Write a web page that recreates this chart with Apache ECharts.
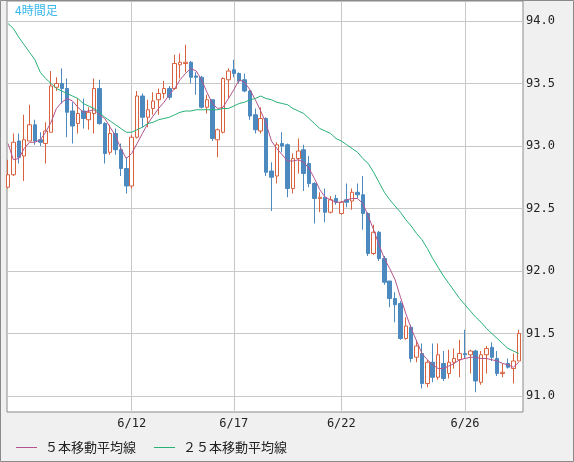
<!DOCTYPE html>
<html>
<head>
<meta charset="utf-8">
<script src="https://cdn.jsdelivr.net/npm/echarts@6/dist/echarts.min.js"></script>
<style>
html,body{margin:0;padding:0;background:#f0f0f0;}
#c{width:574px;height:462px;}
</style>
</head>
<body>
<div id="c"></div>
<script>
// ---- data ----
const opens = [92.67,92.77,93.04,92.92,93.04,93.17,93.05,93.02,93.11,93.47,
93.50,93.46,93.28,93.18,93.28,93.21,93.26,93.46,93.18,92.95,
93.10,92.97,92.82,92.68,93.07,93.40,93.23,93.30,93.37,93.42,
93.46,93.46,93.65,93.66,93.67,93.56,93.55,93.31,93.37,93.05,
93.11,93.53,93.61,93.58,93.53,93.44,93.25,93.12,93.22,92.80,
92.76,93.02,93.01,92.66,92.90,92.97,92.86,92.70,92.58,92.59,
92.47,92.58,92.46,92.57,92.56,92.63,92.61,92.46,92.14,92.31,
92.10,91.92,91.78,91.74,91.46,91.55,91.31,91.34,91.10,91.27,
91.15,91.26,91.18,91.27,91.29,91.34,91.33,91.36,91.11,91.33,
91.39,91.30,91.18,91.26,91.22,91.28];
const closes = [92.77,93.03,92.91,93.05,93.17,93.04,93.03,93.12,93.48,93.50,
93.46,93.27,93.16,93.26,93.22,93.27,93.46,93.18,92.94,93.10,
92.97,92.82,92.68,93.07,93.40,93.23,93.29,93.36,93.42,93.46,
93.39,93.66,93.67,93.67,93.55,93.55,93.31,93.37,93.06,93.13,
93.54,93.60,93.58,93.52,93.44,93.24,93.13,93.22,92.79,92.75,
93.01,93.00,92.66,92.90,92.96,92.78,92.70,92.58,92.59,92.47,
92.57,92.55,92.55,92.55,92.63,92.61,92.46,92.14,92.31,92.10,
91.91,91.78,91.73,91.46,91.56,91.30,91.40,91.10,91.27,91.15,
91.33,91.14,91.27,91.30,91.34,91.33,91.36,91.12,91.33,91.38,
91.31,91.18,91.19,91.23,91.28,91.50];
const highs = [92.89,93.10,93.10,93.25,93.33,93.21,93.11,93.19,93.60,93.55,
93.62,93.54,93.35,93.38,93.38,93.31,93.54,93.53,93.19,93.17,
93.14,93.02,92.91,93.09,93.44,93.42,93.37,93.43,93.46,93.52,
93.48,93.73,93.74,93.81,93.68,93.59,93.56,93.41,93.37,93.14,
93.55,93.62,93.69,93.59,93.58,93.45,93.30,93.31,93.23,92.87,
93.03,93.11,93.02,92.94,93.06,93.01,92.92,92.71,92.63,92.66,
92.60,92.61,92.56,92.70,92.66,92.70,92.76,92.47,92.37,92.32,
92.12,91.92,91.83,91.76,91.63,91.57,91.44,91.42,91.29,91.42,
91.42,91.36,91.37,91.38,91.45,91.53,91.37,91.37,91.36,91.40,
91.43,91.36,91.26,91.30,91.34,91.53];
const lows = [92.66,92.76,92.86,92.72,93.04,93.01,93.00,92.86,93.11,93.44,
93.34,93.07,93.02,93.10,93.14,93.13,93.10,93.17,92.86,92.93,
92.93,92.76,92.62,92.66,93.06,93.15,93.15,93.25,93.25,93.38,
93.37,93.45,93.54,93.59,93.50,93.41,93.30,93.26,93.04,92.91,
93.10,93.38,93.55,93.50,93.43,93.21,93.10,93.10,92.76,92.48,
92.70,92.95,92.59,92.62,92.78,92.64,92.67,92.38,92.47,92.39,
92.46,92.53,92.45,92.51,92.49,92.58,92.33,92.12,92.13,92.08,
91.89,91.71,91.59,91.45,91.45,91.27,91.27,91.06,91.07,91.11,
91.13,91.12,91.14,91.22,91.15,91.30,91.18,91.03,91.09,91.18,
91.28,91.16,91.15,91.22,91.10,91.28];
const ma5 = [93.02,92.89,92.90,92.98,93.03,93.03,93.05,93.11,93.19,93.30,
93.35,93.38,93.36,93.31,93.27,93.28,93.29,93.25,93.22,93.15,
93.08,92.98,92.90,92.94,93.02,93.10,93.18,93.24,93.30,93.35,
93.41,93.46,93.53,93.58,93.62,93.60,93.53,93.43,93.34,93.30,
93.31,93.38,93.45,93.53,93.51,93.45,93.37,93.28,93.18,93.04,
92.98,92.93,92.88,92.88,92.89,92.87,92.82,92.74,92.65,92.59,
92.57,92.55,92.55,92.57,92.58,92.58,92.54,92.44,92.33,92.21,
92.10,92.02,91.93,91.79,91.66,91.54,91.44,91.34,91.29,91.25,
91.22,91.22,91.24,91.26,91.29,91.30,91.31,91.31,91.30,91.30,
91.29,91.28,91.26,91.25,91.23,91.27];
const ma25 = [93.98,93.94,93.87,93.81,93.75,93.69,93.59,93.54,93.50,93.46,
93.44,93.42,93.40,93.38,93.34,93.32,93.30,93.27,93.23,93.20,
93.17,93.14,93.11,93.11,93.13,93.15,93.18,93.19,93.21,93.22,
93.23,93.25,93.27,93.28,93.28,93.29,93.29,93.29,93.29,93.29,
93.30,93.30,93.32,93.34,93.35,93.37,93.38,93.40,93.38,93.37,
93.35,93.34,93.33,93.30,93.28,93.26,93.22,93.18,93.14,93.12,
93.10,93.06,93.04,93.01,92.98,92.95,92.90,92.86,92.79,92.71,
92.63,92.57,92.52,92.47,92.41,92.36,92.30,92.25,92.18,92.10,
92.03,91.96,91.90,91.84,91.78,91.73,91.68,91.63,91.59,91.54,
91.50,91.46,91.42,91.38,91.36,91.34];
const dateTickIndex = [23, 42, 62, 85];
const dateTickLabels = ['6/12', '6/17', '6/22', '6/26'];
const priceTicks = [91.0, 91.5, 92.0, 92.5, 93.0, 93.5, 94.0];
const seriesNames = ['５本移動平均線', '２５本移動平均線'];
const titleText = '4時間足';

// ---- build library data ----
const candleData = opens.map((o, i) => [i, o, closes[i], lows[i], highs[i]]);
const ma5Data = ma5.map((v, i) => [i, v]);
const ma25Data = ma25.map((v, i) => [i, v]);

const chart = echarts.init(document.getElementById('c'), null, {renderer: 'canvas'});
const monoFont = '"DejaVu Sans Mono", "Liberation Mono", monospace';
const jpFont = '"Noto Sans CJK JP", "Noto Sans", sans-serif';

chart.setOption({
  animation: false,
  backgroundColor: '#f0f0f0',
  title: {
    text: titleText,
    left: 15, top: 4, padding: 0,
    textStyle: {color: '#38b7ea', fontSize: 12, fontWeight: 'normal', fontFamily: jpFont}
  },
  legend: {
    data: seriesNames.map(n => ({name: n, icon: 'rect'})),
    left: 16, top: 441, padding: 0,
    itemWidth: 21, itemHeight: 1, itemGap: 18,
    textStyle: {color: '#222', fontSize: 13, fontFamily: jpFont, padding: [0, 0, 0, 3]}
  },
  grid: {
    left: 7, right: 51, top: 1, bottom: 50,
    show: true, backgroundColor: '#ffffff', borderColor: '#8a8a8a', borderWidth: 1
  },
  xAxis: {
    type: 'value',
    min: -0.19, max: 95.79,
    axisLine: {show: false},
    axisTick: {show: false, customValues: dateTickIndex},
    axisLabel: {
      customValues: dateTickIndex,
      margin: 6,
      color: '#222', fontSize: 12, fontFamily: monoFont,
      formatter: v => dateTickLabels[dateTickIndex.indexOf(Math.round(v))] || ''
    },
    splitLine: {show: true, lineStyle: {color: '#c8c8c8', width: 1}}
  },
  yAxis: {
    type: 'value',
    position: 'right',
    min: 90.872, max: 94.16,
    axisLine: {show: false},
    axisTick: {show: true, length: 3, inside: false, customValues: priceTicks, lineStyle: {color: '#c8c8c8'}},
    axisLabel: {
      customValues: priceTicks,
      margin: 3,
      color: '#222', fontSize: 12, fontFamily: monoFont,
      formatter: v => v.toFixed(1)
    },
    splitLine: {show: true, lineStyle: {color: '#c8c8c8', width: 1}}
  },
  graphic: [{
    type: 'rect', z: 100, silent: true,
    shape: {x: 0.5, y: 0.5, width: 573, height: 461},
    style: {fill: null, stroke: '#8a8a8a', lineWidth: 1}
  }],
  series: [
    {
      type: 'candlestick',
      data: candleData,
      barWidth: 4,
      itemStyle: {
        color: '#ffffff', borderColor: '#d9623e',
        color0: '#4b89bf', borderColor0: '#4b89bf',
        borderWidth: 1
      },
      z: 3
    },
    {
      name: seriesNames[0], type: 'line', data: ma5Data,
      symbol: 'none', smooth: false,
      lineStyle: {color: '#b4548c', width: 1},
      itemStyle: {color: '#b4548c'},
      z: 4
    },
    {
      name: seriesNames[1], type: 'line', data: ma25Data,
      symbol: 'none', smooth: false,
      lineStyle: {color: '#29b077', width: 1},
      itemStyle: {color: '#29b077'},
      z: 4
    }
  ]
});
</script>
</body>
</html>
